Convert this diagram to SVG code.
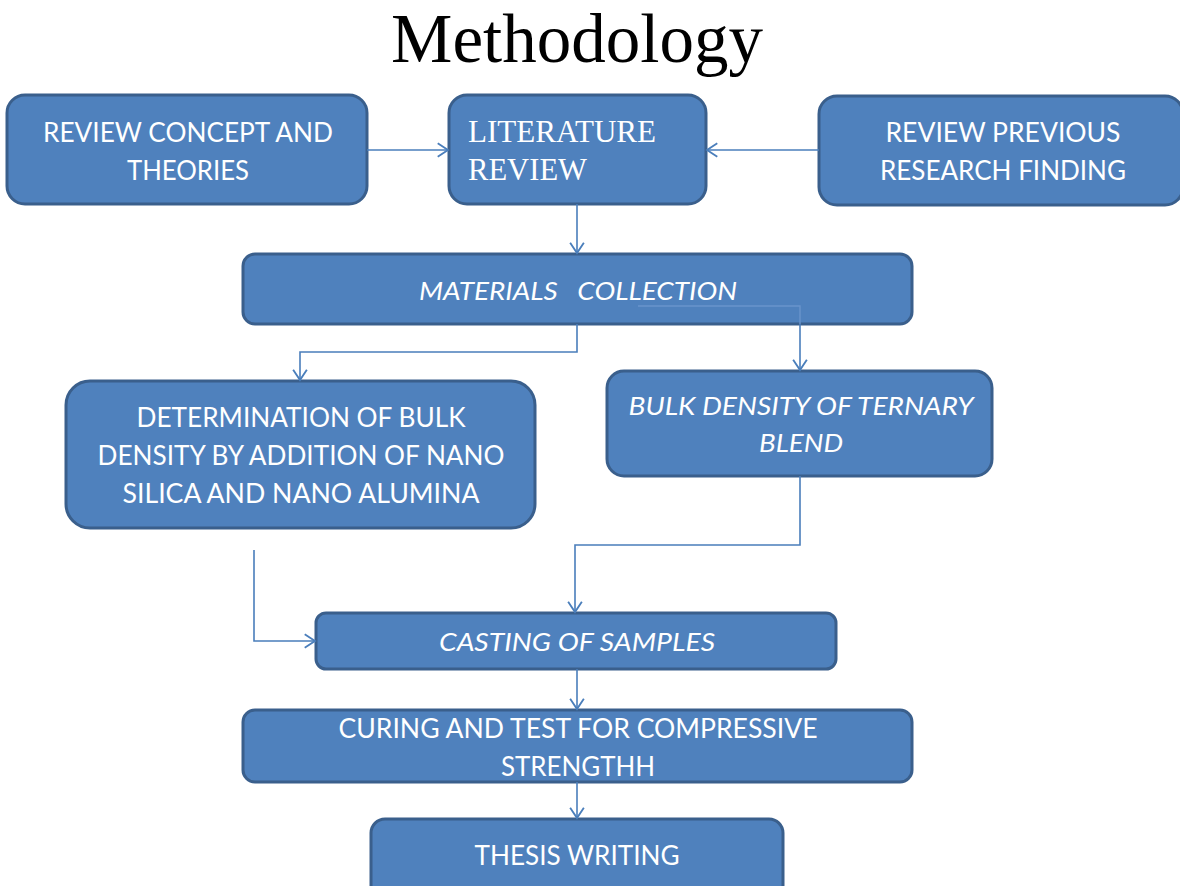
<svg xmlns="http://www.w3.org/2000/svg" width="1180" height="886" viewBox="0 0 1180 886">
<defs>
<style>
.box{fill:#4F81BD;stroke:#3A5F8C;stroke-width:3}
.t{font-family:Lato,"Open Sans","Liberation Sans",sans-serif;font-size:26px;fill:#fff;text-anchor:middle}
.i{font-style:italic}
.s{font-family:"Liberation Serif","Times New Roman",serif;font-size:31px;fill:#fff}
.c{fill:none;stroke:#4A7EBB;stroke-width:1.6}
</style>
<marker id="ah" markerUnits="userSpaceOnUse" markerWidth="14" markerHeight="16" refX="10" refY="7" orient="auto" viewBox="0 0 12 14">
<path d="M1,1 L10,7 L1,13" fill="none" stroke="#4A7EBB" stroke-width="1.6"/>
</marker>
</defs>
<rect width="1180" height="886" fill="#fff"/>
<text x="577" y="62" font-family="Liberation Serif,'Times New Roman',serif" font-size="69" fill="#000" text-anchor="middle">Methodology</text>

<g id="review-concept">
<rect class="box" x="7" y="95" width="360" height="109" rx="18"/>
<text class="t" x="188" y="142" textLength="290" lengthAdjust="spacingAndGlyphs">REVIEW CONCEPT AND</text>
<text class="t" x="188" y="180" textLength="122" lengthAdjust="spacingAndGlyphs">THEORIES</text>
</g>

<g id="literature-review">
<rect class="box" x="449" y="95" width="257" height="109" rx="18"/>
<text class="s" x="468" y="142" textLength="188" lengthAdjust="spacingAndGlyphs">LITERATURE</text>
<text class="s" x="468" y="180" textLength="119" lengthAdjust="spacingAndGlyphs">REVIEW</text>
</g>

<g id="review-previous">
<rect class="box" x="819" y="96" width="364" height="109" rx="18"/>
<text class="t" x="1003" y="142" textLength="235" lengthAdjust="spacingAndGlyphs">REVIEW PREVIOUS</text>
<text class="t" x="1003" y="180" textLength="246" lengthAdjust="spacingAndGlyphs">RESEARCH FINDING</text>
</g>

<g id="materials-collection">
<rect class="box" x="243" y="254" width="669" height="70" rx="12"/>
<text class="t i" x="578" y="300" textLength="318" lengthAdjust="spacingAndGlyphs" xml:space="preserve">MATERIALS   COLLECTION</text>
</g>

<g id="determination">
<rect class="box" x="66" y="381" width="469" height="147" rx="24"/>
<text class="t" x="301" y="427" textLength="329" lengthAdjust="spacingAndGlyphs">DETERMINATION OF BULK</text>
<text class="t" x="301" y="465" textLength="407" lengthAdjust="spacingAndGlyphs">DENSITY BY ADDITION OF NANO</text>
<text class="t" x="301" y="503" textLength="357" lengthAdjust="spacingAndGlyphs">SILICA AND NANO ALUMINA</text>
</g>

<g id="bulk-density">
<rect class="box" x="607" y="371" width="385" height="105" rx="17"/>
<text class="t i" x="801" y="415" textLength="345" lengthAdjust="spacingAndGlyphs">BULK DENSITY OF TERNARY</text>
<text class="t i" x="801" y="452" textLength="84" lengthAdjust="spacingAndGlyphs">BLEND</text>
</g>

<g id="casting">
<rect class="box" x="316" y="613" width="520" height="56" rx="10"/>
<text class="t i" x="577" y="651" textLength="276" lengthAdjust="spacingAndGlyphs">CASTING OF SAMPLES</text>
</g>

<g id="curing">
<rect class="box" x="243" y="710" width="669" height="72" rx="12"/>
<text class="t" x="578" y="738" textLength="479" lengthAdjust="spacingAndGlyphs">CURING AND TEST FOR COMPRESSIVE</text>
<text class="t" x="578" y="776" textLength="154" lengthAdjust="spacingAndGlyphs">STRENGTHH</text>
</g>

<g id="thesis">
<rect class="box" x="371" y="819" width="412" height="80" rx="14"/>
<text class="t" x="577" y="865" textLength="205" lengthAdjust="spacingAndGlyphs">THESIS WRITING</text>
</g>

<g id="connectors">
<path class="c" d="M367,150 H448" marker-end="url(#ah)"/>
<path class="c" d="M819,150 H707" marker-end="url(#ah)"/>
<path class="c" d="M577,204 V253" marker-end="url(#ah)"/>
<path class="c" d="M577,324 V352 H300 V380" marker-end="url(#ah)"/>
<path d="M638,306 H800 V324" fill="none" stroke="#6A94CB" stroke-width="1.4"/>
<path class="c" d="M800,324 V370" marker-end="url(#ah)"/>
<path class="c" d="M577,669 V709" marker-end="url(#ah)"/>
<path class="c" d="M577,782 V818" marker-end="url(#ah)"/>
<path class="c" d="M800,476 V545 H575 V612" marker-end="url(#ah)"/>
<path class="c" d="M254,550 V641 H315" marker-end="url(#ah)"/>
</g>
</svg>
